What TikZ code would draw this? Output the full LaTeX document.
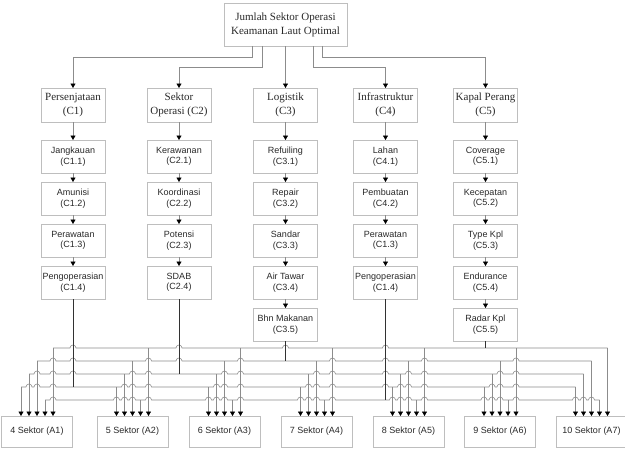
\documentclass[tikz,border=0pt]{standalone}
\usepackage{fontspec}
\setmainfont{Liberation Serif}
\setsansfont{Liberation Sans}
\usetikzlibrary{arrows.meta,positioning}
\definecolor{boxline}{RGB}{190,190,190}
\definecolor{wiregray}{RGB}{140,140,140}
\definecolor{wiredark}{RGB}{50,50,50}
\definecolor{txtdark}{RGB}{40,40,40}
\tikzset{
  basebox/.style={rectangle,draw=boxline,line width=1pt,align=center,text=txtdark,inner sep=1pt,outer sep=0pt},
  goalbox/.style={basebox,font=\fontsize{11}{14}\selectfont,minimum width=123pt,minimum height=43pt},
  critbox/.style={basebox,font=\fontsize{11}{14}\selectfont,minimum width=64pt,minimum height=34pt},
  subbox/.style={basebox,font=\sffamily\fontsize{9}{10.5}\selectfont,minimum width=64pt,minimum height=33pt},
  altbox/.style={basebox,font=\sffamily\fontsize{9}{10.5}\selectfont,minimum width=71pt,minimum height=31pt},
  arr/.style={-{Triangle[length=4.5pt,width=5pt,color=black]},line width=0.6pt,color=wiregray},
  srcline/.style={line width=0.9pt,color=wiredark},
  busline/.style={line width=0.6pt,color=wiregray}
}

\begin{document}
\begin{tikzpicture}[x=1pt,y=1pt,node distance=9pt]
  \useasboundingbox (0,0) rectangle (625,-450);

  % goal and criteria
  \node[goalbox] (goal) at (285.5,-24.5) {Jumlah Sektor Operasi\\Keamanan Laut Optimal};
  \node[critbox] (c1) at (73,-105) {Persenjataan\\(C1)};
  \node[critbox] (c2) at (179,-105) {Sektor\\Operasi (C2)};
  \node[critbox] (c3) at (285.5,-105) {Logistik\\(C3)};
  \node[critbox] (c4) at (385.5,-105) {Infrastruktur\\(C4)};
  \node[critbox] (c5) at (485.5,-105) {Kapal Perang\\(C5)};

  % sub-criteria
  \node[subbox,below=18pt of c1] (c11) {Jangkauan\\(C1.1)};
  \node[subbox,below=of c11] (c12) {Amunisi\\(C1.2)};
  \node[subbox,below=of c12] (c13) {Perawatan\\(C1.3)};
  \node[subbox,below=of c13] (c14) {Pengoperasian\\(C1.4)};

  \node[subbox,below=18pt of c2] (c21) {Kerawanan\\(C2.1)};
  \node[subbox,below=of c21] (c22) {Koordinasi\\(C2.2)};
  \node[subbox,below=of c22] (c23) {Potensi\\(C2.3)};
  \node[subbox,below=of c23] (c24) {SDAB\\(C2.4)};

  \node[subbox,below=18pt of c3] (c31) {Refuiling\\(C3.1)};
  \node[subbox,below=of c31] (c32) {Repair\\(C3.2)};
  \node[subbox,below=of c32] (c33) {Sandar\\(C3.3)};
  \node[subbox,below=of c33] (c34) {Air Tawar\\(C3.4)};
  \node[subbox,below=of c34] (c35) {Bhn Makanan\\(C3.5)};

  \node[subbox,below=18pt of c4] (c41) {Lahan\\(C4.1)};
  \node[subbox,below=of c41] (c42) {Pembuatan\\(C4.2)};
  \node[subbox,below=of c42] (c43) {Perawatan\\(C1.3)};
  \node[subbox,below=of c43] (c44) {Pengoperasian\\(C1.4)};

  \node[subbox,below=18pt of c5] (c51) {Coverage\\(C5.1)};
  \node[subbox,below=of c51] (c52) {Kecepatan\\(C5.2)};
  \node[subbox,below=of c52] (c53) {Type Kpl\\(C5.3)};
  \node[subbox,below=of c53] (c54) {Endurance\\(C5.4)};
  \node[subbox,below=of c54] (c55) {Radar Kpl\\(C5.5)};

  % alternatives
  \foreach \i/\x/\n in {1/37/4,2/132.5/5,3/224.5/6,4/316.5/7,5/408.5/8,6/500/9,7/591.5/10}
    \node[altbox] (a\i) at (\x,-431.5) {\n{} Sektor (A\i)};

  % goal to criteria
  \draw[arr] ([xshift=-33pt]goal.south) -- ++(0,-11) -| (c1.north);
  \draw[arr] ([xshift=-23pt]goal.south) -- ++(0,-21) -| (c2.north);
  \draw[arr] (goal) -- (c3);
  \draw[arr] ([xshift=28pt]goal.south) -- ++(0,-21) -| (c4.north);
  \draw[arr] ([xshift=37pt]goal.south) -- ++(0,-11) -| (c5.north);

  % criteria to sub-criteria
  \foreach \p/\q in {c1/c11,c11/c12,c12/c13,c13/c14,
                     c2/c21,c21/c22,c22/c23,c23/c24,
                     c3/c31,c31/c32,c32/c33,c33/c34,c34/c35,
                     c4/c41,c41/c42,c42/c43,c43/c44,
                     c5/c51,c51/c52,c52/c53,c53/c54,c54/c55}
    \draw[arr] (\p) -- (\q);

  % bus levels
  \coordinate (busC5) at (0,-348);
  \coordinate (busC3) at (0,-361);
  \coordinate (busC2) at (0,-374);
  \coordinate (busC1) at (0,-387);
  \coordinate (busC4) at (0,-400);

  % buses with hops
  \draw[busline] (53,-348) \foreach \h in {73,179,285.5,385.5}
    {-- (\h-3,-348) arc[start angle=180,end angle=0,radius=3]} -- (607.5,-348);
  \draw[busline] (37,-361) \foreach \h in {53,73,148.5,179,240.5,332.5,385.5,424.5,516}
    {-- (\h-3,-361) arc[start angle=180,end angle=0,radius=3]} -- (591.5,-361);
  \draw[busline] (29,-374) \foreach \h in {37,53,73,132.5,148.5,224.5,240.5,316.5,332.5,385.5,408.5,424.5,500,516}
    {-- (\h-3,-374) arc[start angle=180,end angle=0,radius=3]} -- (583.5,-374);
  \draw[busline] (21,-387) \foreach \h in {29,37,53,124.5,132.5,148.5,216.5,224.5,240.5,308.5,316.5,332.5,385.5,400.5,408.5,424.5,492,500,516}
    {-- (\h-3,-387) arc[start angle=180,end angle=0,radius=3]} -- (575.5,-387);
  \draw[busline] (45,-400) \foreach \h in {53,116.5,124.5,132.5,148.5,208.5,216.5,224.5,240.5,300.5,308.5,316.5,332.5,392.5,400.5,408.5,424.5,484,492,500,516,575.5,583.5,591.5}
    {-- (\h-3,-400) arc[start angle=180,end angle=0,radius=3]} -- (599.5,-400);

  % sources down to their buses
  \draw[srcline] (c14.south) -- (c14.south |- busC1);
  \draw[srcline] (c24.south) -- (c24.south |- busC2);
  \draw[srcline] (c35.south) -- (c35.south |- busC3);
  \draw[srcline] (c44.south) -- (c44.south |- busC4);
  \draw[srcline] (c55.south) -- (c55.south |- busC5);

  % drops into alternatives
  \foreach \o/\h in {-16/29,-8/42,0/55,8/16,16/68}
    \foreach \i in {1,...,7}
      \draw[arr] ([xshift=\o pt]a\i.north) ++(0,\h) -- ++(0,-\h);
\end{tikzpicture}
\end{document}
